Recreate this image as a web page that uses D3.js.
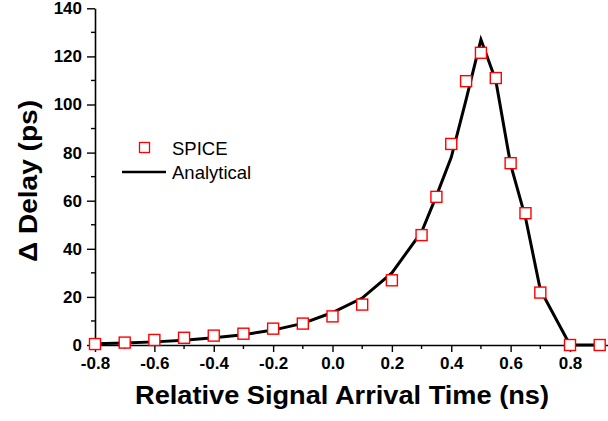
<!DOCTYPE html>
<html>
<head>
<meta charset="utf-8">
<script src="https://cdn.jsdelivr.net/npm/d3@7"></script>
<style>
  body { margin: 0; background: #fff; }
  text { font-family: "Liberation Sans", Arial, sans-serif; }
</style>
</head>
<body>
<div id="chart"></div>
<script>
// SPICE samples (ns, ps)
const spiceX = [-0.8, -0.7, -0.6, -0.5, -0.4, -0.3, -0.2, -0.1, 0.0, 0.1, 0.2, 0.3, 0.35, 0.4, 0.45, 0.5, 0.55, 0.6, 0.65, 0.7, 0.8, 0.9];
const spiceY = [0.4, 1.0, 2.1, 3.0, 3.9, 4.7, 6.8, 8.9, 11.9, 16.8, 26.9, 45.7, 61.6, 83.6, 109.7, 121.5, 111, 75.6, 54.8, 21.8, 0, 0];

// Analytical curve
const anaX = [-0.8, -0.7, -0.6, -0.5, -0.4, -0.3, -0.2, -0.1, 0.0, 0.1, 0.2, 0.3, 0.35, 0.4, 0.45, 0.5, 0.55, 0.6, 0.65, 0.7, 0.8, 0.9];
const anaY = [0.5, 0.8, 1.3, 2.0, 3.0, 4.3, 6.2, 9.0, 13.5, 19.5, 30, 47, 62, 78, 102, 127, 110, 75, 53, 23, 0, 0];

const xTicks = [-0.8, -0.6, -0.4, -0.2, 0.0, 0.2, 0.4, 0.6, 0.8];
const xMinor = [-0.7, -0.5, -0.3, -0.1, 0.1, 0.3, 0.5, 0.7, 0.9];
const yTicks = [0, 20, 40, 60, 80, 100, 120, 140];
const yMinor = [10, 30, 50, 70, 90, 110, 130];

const W = 608, H = 421;
const svg = d3.select("#chart").append("svg")
  .attr("width", W).attr("height", H);

const x = d3.scaleLinear().domain([-0.8, 0.93]).range([95, 608.6]);
const y = d3.scaleLinear().domain([0, 140]).range([345, 8.3]);

// Axes
const xAxis = svg.append("g")
  .attr("transform", `translate(0,${y(0)})`)
  .call(d3.axisBottom(x).tickValues(xTicks).tickSize(7).tickPadding(5)
    .tickSizeOuter(0));
xAxis.select(".domain").attr("stroke-width", 1.6);
xAxis.selectAll(".tick line").attr("stroke-width", 1.4);
xAxis.selectAll("text").attr("font-size", 17).attr("font-weight", "bold")
  .text(d => d3.format(".1f")(d).replace("−", "-"));

svg.append("g")
  .attr("transform", `translate(0,${y(0)})`)
  .selectAll("line").data(xMinor).join("line")
  .attr("x1", d => x(d)).attr("x2", d => x(d))
  .attr("y1", 0).attr("y2", 4)
  .attr("stroke", "#000").attr("stroke-width", 1.4);

const yAxis = svg.append("g")
  .attr("transform", `translate(${x(-0.8)},0)`)
  .call(d3.axisLeft(y).tickValues(yTicks).tickSize(8).tickPadding(5).tickSizeOuter(0));
yAxis.select(".domain").attr("stroke-width", 1.6);
yAxis.selectAll(".tick line").attr("stroke-width", 1.4);
yAxis.selectAll("text").attr("font-size", 17).attr("font-weight", "bold");

svg.append("g")
  .attr("transform", `translate(${x(-0.8)},0)`)
  .selectAll("line").data(yMinor).join("line")
  .attr("x1", 0).attr("x2", -4)
  .attr("y1", d => y(d)).attr("y2", d => y(d))
  .attr("stroke", "#000").attr("stroke-width", 1.4);

// Analytical line
const line = d3.line().x((d, i) => x(anaX[i])).y(d => y(d));
svg.append("path")
  .attr("d", line(anaY))
  .attr("fill", "none")
  .attr("stroke", "#000")
  .attr("stroke-width", 3)
  .attr("stroke-linejoin", "miter");

// SPICE squares
const s = 11;
svg.append("g").selectAll("rect")
  .data(spiceY).join("rect")
  .attr("x", (d, i) => x(spiceX[i]) - s / 2)
  .attr("y", d => y(d) - s / 2)
  .attr("width", s).attr("height", s)
  .attr("fill", "#fff")
  .attr("stroke", "#f00")
  .attr("stroke-width", 1.4);

// Legend
const lg = svg.append("g");
lg.append("rect").attr("x", 139.5).attr("y", 142.5).attr("width", 10).attr("height", 10)
  .attr("fill", "#fff").attr("stroke", "#f00").attr("stroke-width", 1.3);
lg.append("text").attr("x", 172).attr("y", 155).attr("font-size", 18.5).text("SPICE");
lg.append("line").attr("x1", 122).attr("x2", 166).attr("y1", 172).attr("y2", 172)
  .attr("stroke", "#000").attr("stroke-width", 2.5);
lg.append("text").attr("x", 172).attr("y", 179).attr("font-size", 18.5).text("Analytical");

// Axis titles
svg.append("text")
  .attr("x", 342).attr("y", 404)
  .attr("text-anchor", "middle")
  .attr("font-size", 26).attr("font-weight", "bold")
  .attr("textLength", 414).attr("lengthAdjust", "spacingAndGlyphs")
  .text("Relative Signal Arrival Time (ns)");

svg.append("text")
  .attr("transform", "translate(37,181) rotate(-90)")
  .attr("text-anchor", "middle")
  .attr("font-size", 26).attr("font-weight", "bold")
  .attr("textLength", 162).attr("lengthAdjust", "spacingAndGlyphs")
  .text("Δ Delay (ps)");
</script>
</body>
</html>
